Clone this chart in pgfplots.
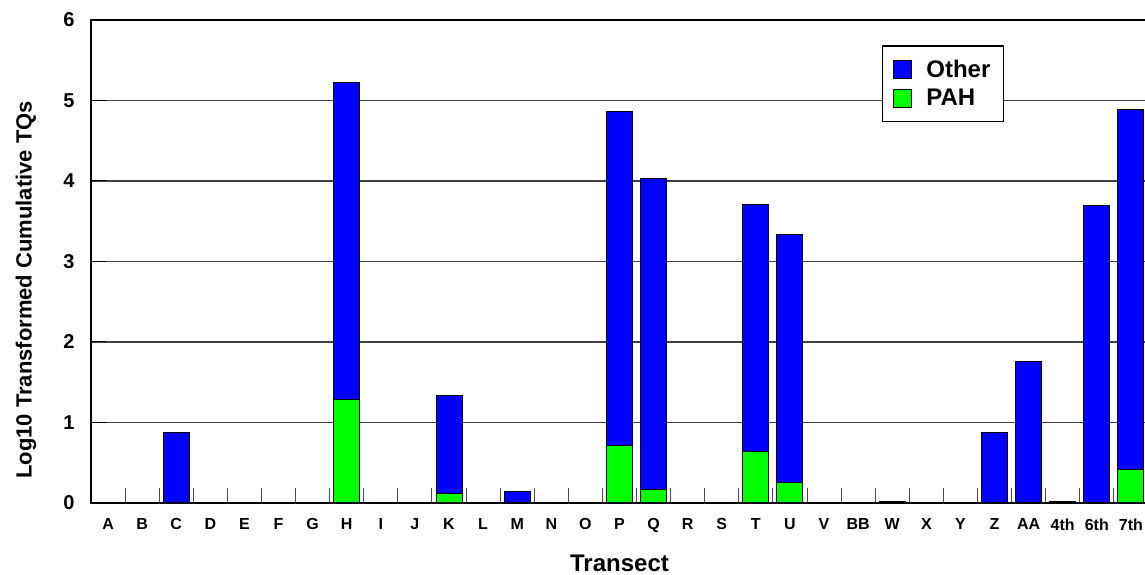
\documentclass[border=0pt]{standalone}
\usepackage{pgfplots}
\usepackage{pgfplotstable}
\pgfplotsset{compat=1.18}
\usepackage{fontspec}
\setmainfont{Liberation Sans}
\definecolor{barblue}{RGB}{0,0,255}
\definecolor{bargreen}{RGB}{0,255,0}
\pgfplotstableread{
x pah other
0 0 0
1 0 0
2 0 0.88
3 0 0
4 0 0
5 0 0
6 0 0
7 1.28 3.94
8 0 0
9 0 0
10 0.12 1.22
11 0 0
12 0 0.145
13 0 0
14 0 0
15 0.72 4.14
16 0.165 3.865
17 0 0
18 0 0
19 0.64 3.07
20 0.25 3.08
21 0 0
22 0 0
23 0 0.02
24 0 0
25 0 0
26 0 0.88
27 0 1.76
28 0 0.015
29 0 3.69
30 0.41 4.48
}\data
\begin{document}
\begin{tikzpicture}
\path[use as bounding box] (-91pt,-72pt) rectangle (1054pt,503pt);
\begin{axis}[
  at={(0pt,0pt)}, anchor=south west,
  scale only axis, width=1057pt, height=483pt,
  xmin=-0.5, xmax=30.5, ymin=0, ymax=6,
  ybar stacked, bar width=26pt,
  xtick={0,...,30},
  xticklabels={A,B,C,D,E,F,G,H,I,J,K,L,M,N,O,P,Q,R,S,T,U,V,BB,W,X,Y,Z,AA,4th,6th,7th},
  minor xtick={0.5,1.5,...,29.5},
  ytick={0,1,...,6},
  xtick pos=bottom, ytick pos=left,
  tick align=inside,
  major x tick style={draw=none},
  minor tick length=15pt,
  minor x tick style={draw=black!70, line width=1pt},
  major y tick style={draw=black, line width=1pt},
  major tick length=15pt,
  ymajorgrids,
  major grid style={draw=black!75, line width=1.1pt},
  axis line style={draw=black, line width=2.2pt},
  /pgf/number format/assume math mode=true,
  xticklabel style={font=\bfseries\fontsize{16}{16}\selectfont, yshift=-12pt},
  yticklabel style={font=\bfseries\fontsize{20}{20}\selectfont, xshift=-13pt},
  xlabel={Transect},
  ylabel={Log10 Transformed Cumulative TQs},
  xlabel style={font=\bfseries\fontsize{24}{24}\selectfont, at={(axis description cs:0.5,-0.124)}, anchor=center},
  ylabel style={font=\bfseries\fontsize{22}{22}\selectfont, at={(axis description cs:-0.0615,0.441)}, anchor=center},
  legend style={at={(axis description cs:0.748,0.948)}, anchor=north west,
    draw=black, line width=1.5pt, font=\bfseries\fontsize{24}{24}\selectfont,
    inner xsep=11pt, inner ysep=12pt, row sep=6.5pt,
    /tikz/every odd column/.append style={column sep=12pt}},
  legend cell align=left,
  reverse legend,
  legend image code/.code={\draw[#1, line width=1pt] (0pt,-9pt) rectangle (18pt,9pt);},
]
\addplot[fill=bargreen, draw=black, line width=1pt] table[x=x, y=pah] {\data};
\addplot[fill=barblue, draw=black, line width=1pt] table[x=x, y=other] {\data};
\legend{PAH, Other}
\end{axis}
\end{tikzpicture}
\end{document}
